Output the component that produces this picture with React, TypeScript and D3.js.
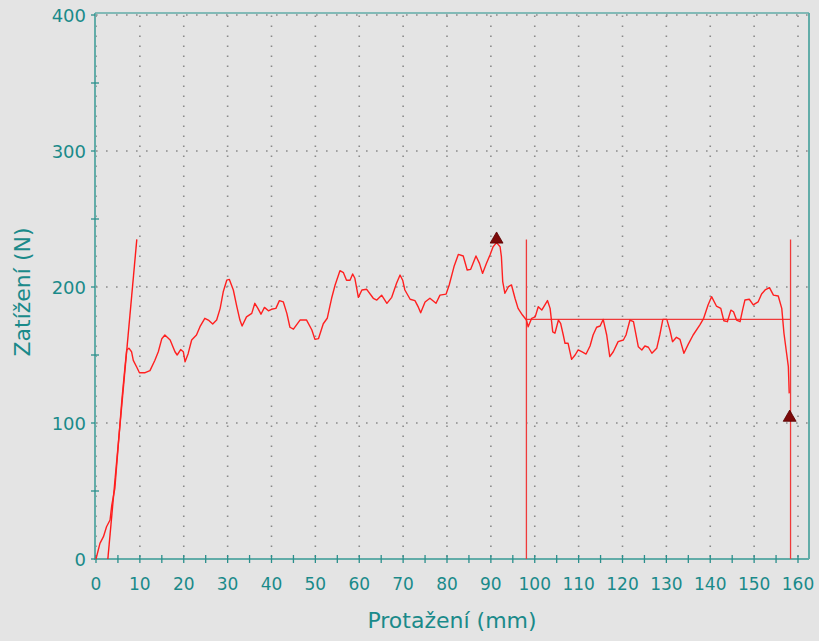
import React from "react";
import * as d3 from "d3";

const loadX = [0,0.9,1.7,2.4,3.2,3.6,4.3,5.9,6.6,7.0,7.5,8.1,8.5,9.3,9.9,11.2,12.3,13.4,14.2,15.0,15.7,16.9,18.0,18.5,19.3,19.9,20.3,21.0,21.8,22.9,23.7,24.8,25.6,26.6,27.5,28.3,29.0,29.8,30.4,31.3,32.1,32.8,33.3,34.3,35.5,36.2,36.9,37.6,38.4,39.3,40.0,41.0,41.8,42.7,43.5,44.2,45.0,46.5,48.0,49.2,49.9,50.7,51.8,52.7,53.7,54.5,55.6,56.4,57.1,57.9,58.5,59.0,59.8,60.6,61.7,63.2,64.0,65.1,66.3,67.4,68.5,69.3,69.9,70.4,71.6,72.7,73.5,74.0,75.0,76.1,77.5,78.4,79.8,80.5,81.6,82.6,83.7,84.6,85.4,86.6,87.4,88.1,89.0,89.8,90.5,91.3,92.1,92.4,92.7,93.2,94.0,94.7,95.5,96.2,97.2,98.1,98.5,99.3,100.1,100.8,101.6,102.9,103.5,104.1,104.6,105.4,105.9,106.5,106.9,107.6,108.4,109.2,109.9,110.7,111.7,112.6,113.3,114.1,114.9,115.6,116.4,117.1,117.9,119.0,120.2,120.8,121.7,122.5,123.6,124.4,125.1,125.9,126.7,127.8,128.5,129.2,130.1,130.8,131.4,132.3,133.1,134.0,135.0,136.1,137.6,138.5,139.5,140.3,141.4,142.4,143.1,143.9,144.7,145.3,146.0,146.8,147.4,147.9,148.9,149.8,150.9,151.7,152.5,153.5,154.4,155.5,156.3,156.8,157.4,157.8,158.0];
const loadY = [0,11.5,16.4,23.7,28.7,39.7,52,117,141,153.7,155,152.4,146,141,137,137,138.5,146,152.4,162,164.7,161,152.4,150,154,152.4,145,151,161,164.7,170.8,177,175.7,172.8,175.7,184.3,196.5,205,205.6,197.8,185.5,175.7,171.3,178,180.6,188,184.3,180,185,182.5,183.6,184.3,190,189,180.6,170.4,169,175.7,175.7,168.4,161.5,162,173,177,191.7,201.5,212,210.5,205,205,209.6,206.4,192.4,197.8,198.3,191.7,190.4,194,188,192.4,202.7,208.8,205,197.8,191,190,185,181,189,191.7,188,194,194.8,201.5,215,224,222.8,212.5,213,222.8,217.4,210,217.4,223.5,229.6,232.6,229.6,222.3,204,195.4,200.2,201.5,191.7,184.3,179.4,175.7,170.8,177,178,185.5,183,190,184.3,167,166,175.7,173.3,164.7,158.6,158.6,146.8,150,153.7,152.4,150.7,156.6,164.7,170.4,171.3,176.2,164.7,148.8,152.4,159.8,161,164.7,175.7,174.5,156.1,153.7,156.6,155.7,151.3,154.9,164.7,176.2,176.2,168.4,159.8,163,161.5,151.3,158,164.7,172,177,186.8,192.9,186,184.3,175.2,174.5,183,181.8,175.7,174.5,183.6,190.4,191,186.8,189,194.8,197.8,199.5,194,193.4,184.3,166,151.3,141.4,121.8];

const modulusX = [2.7, 9.3];
const modulusY = [0, 235];
const cursorX = [98.1, 158.3];
const cursorTop = 235;
const averageY = 176.2;
const markerX = [91.3, 158.1];
const markerY = [235, 104];

const xTicks = d3.range(0, 161, 10);
const xMinor = d3.range(0, 161, 5);
const yTicks = [0, 100, 200, 300, 400];
const yMinor = [50, 150, 250, 350];
const xTitle = "Protažení (mm)";
const yTitle = "Zatížení (N)";

export default function App() {
  const W = 819, H = 641;
  const x = d3.scaleLinear().domain([0, 160]).range([96, 798]);
  const y = d3.scaleLinear().domain([0, 400]).range([559, 15]);
  const left = 95, right = 809, top = 13, bottom = 559;
  const axisCol = "#62aca8";
  const tickCol = "#2b8f8c";
  const textCol = "#1a8a8a";
  const font = "DejaVu Sans, Verdana, sans-serif";

  const pts: [number, number][] = loadX.map((v, i) => [v, loadY[i]]);
  const line = d3.line<[number, number]>().x(d => x(d[0])).y(d => y(d[1]));
  const tri = d3.symbol().type(d3.symbolTriangle).size(72)();

  return (
    <>
      <style>{`body{margin:0;background:#e4e4e4}`}</style>
      <svg width={W} height={H} style={{ display: "block", background: "#e4e4e4" }}>
        {/* grid */}
        {xTicks.map(t => (
          <line key={"gx" + t} x1={x(t)} x2={x(t)} y1={bottom - 2} y2={top + 1}
            stroke="#8a8a8a" strokeWidth={1.6} strokeDasharray="1.6 8.4" />
        ))}
        {yTicks.map(t => (
          <line key={"gy" + t} x1={left + 1} x2={right - 1} y1={y(t)} y2={y(t)}
            stroke="#8a8a8a" strokeWidth={1.6} strokeDasharray="1.6 8.4" />
        ))}
        {/* frame */}
        <line x1={left} x2={right} y1={top} y2={top} stroke={axisCol} strokeWidth={1.5} />
        <line x1={right} x2={right} y1={top} y2={bottom} stroke={axisCol} strokeWidth={2} />
        <line x1={left} x2={left} y1={top} y2={bottom + 1} stroke={axisCol} strokeWidth={2} />
        <line x1={left} x2={right} y1={bottom} y2={bottom} stroke={axisCol} strokeWidth={2} />
        {/* ticks */}
        {xMinor.map(t => (
          <line key={"tx" + t} x1={x(t)} x2={x(t)} y1={bottom - 4} y2={bottom + 4}
            stroke={tickCol} strokeWidth={1.3} />
        ))}
        {yTicks.map(t => (
          <line key={"ty" + t} x1={left - 4} x2={left} y1={y(t)} y2={y(t)}
            stroke={tickCol} strokeWidth={1.3} />
        ))}
        {yMinor.map(t => (
          <line key={"tym" + t} x1={left - 4} x2={left + 4} y1={y(t)} y2={y(t)}
            stroke={tickCol} strokeWidth={1.3} />
        ))}
        {/* tick labels */}
        {xTicks.map(t => (
          <text key={"lx" + t} x={x(t)} y={590} textAnchor="middle" fontFamily={font}
            fontSize={17} fill={textCol}>{t}</text>
        ))}
        {yTicks.map(t => (
          <text key={"ly" + t} x={86} y={y(t) + 7} textAnchor="end" fontFamily={font}
            fontSize={18} fill={textCol}>{t}</text>
        ))}
        {/* titles */}
        <text x={452} y={628} textAnchor="middle" fontFamily={font} fontSize={22} fill={textCol}>{xTitle}</text>
        <text transform={`translate(30,${y(200) + 5}) rotate(-90)`} textAnchor="middle"
          fontFamily={font} fontSize={22} fill={textCol}>{yTitle}</text>
        {/* cursor lines */}
        {cursorX.map(c => (
          <line key={"c" + c} x1={x(c)} x2={x(c)} y1={y(cursorTop)} y2={bottom}
            stroke="#ef3a3a" strokeWidth={1.3} />
        ))}
        <line x1={x(cursorX[0])} x2={x(cursorX[1])} y1={y(averageY)} y2={y(averageY)}
          stroke="#ef3a3a" strokeWidth={1.3} />
        {/* modulus line */}
        <line x1={x(modulusX[0])} x2={x(modulusX[1])} y1={y(modulusY[0])} y2={y(modulusY[1])}
          stroke="#ff1a1a" strokeWidth={1.4} />
        {/* curve */}
        <path d={line(pts) || ""} fill="none" stroke="#ff2020" strokeWidth={1.4} strokeLinejoin="round" />
        {/* markers */}
        {markerX.map((m, i) => (
          <path key={"m" + i} d={tri || ""} transform={`translate(${x(m)},${y(markerY[i])})`}
            fill="#7c0a0a" stroke="#5a0000" strokeWidth={0.8} />
        ))}
      </svg>
    </>
  );
}
